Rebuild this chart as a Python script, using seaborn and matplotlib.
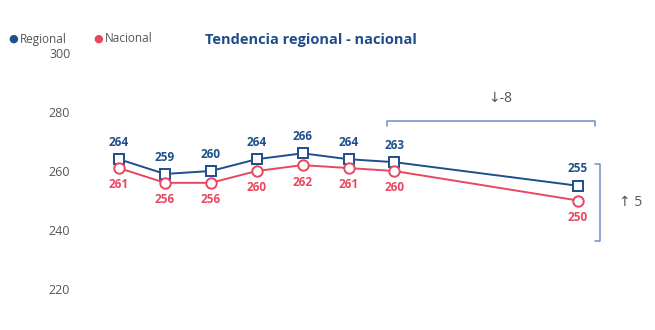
import matplotlib
matplotlib.use("Agg")
import matplotlib.pyplot as plt
import seaborn as sns
import pandas as pd

# Data
periodos = [0, 1, 2, 3, 4, 5, 6, 10]
regional = [264, 259, 260, 264, 266, 264, 263, 255]
nacional = [261, 256, 256, 260, 262, 261, 260, 250]
yticks = [220, 240, 260, 280, 300]

AZUL = "#1f4e8c"
ROJO = "#e8475f"
CORCHETE = "#6f8fc8"
GRIS = "#555555"

sns.set_theme(style="white")
plt.rcParams["font.family"] = ["Open Sans", "DejaVu Sans"]

df = pd.DataFrame({
    "periodo": periodos * 2,
    "puntaje": regional + nacional,
    "serie": ["Regional"] * len(regional) + ["Nacional"] * len(nacional),
})

fig = plt.figure(figsize=(6.55, 3.3), dpi=100)
ax = fig.add_axes([80 / 655, 20 / 330, 560 / 655, 270 / 330])

for nombre, color, marcador in [("Regional", AZUL, "s"), ("Nacional", ROJO, "o")]:
    sub = df[df["serie"] == nombre]
    sns.lineplot(data=sub, x="periodo", y="puntaje", ax=ax, color=color,
                 marker=marcador, markersize=7.5, markerfacecolor="white",
                 markeredgecolor=color, markeredgewidth=1.4, linewidth=1.4,
                 legend=False)

# Value labels
for x, v in zip(periodos, regional):
    ax.annotate(str(v), (x, v), xytext=(0, 7.5), textcoords="offset points",
                ha="center", va="bottom", color=AZUL, fontsize=8.5, fontweight="bold")
for x, v in zip(periodos, nacional):
    ax.annotate(str(v), (x, v), xytext=(0, -7.5), textcoords="offset points",
                ha="center", va="top", color=ROJO, fontsize=8.5, fontweight="bold")

# Horizontal bracket over the last period change
yb = 276.9
ax.plot([5.84, 5.84, 10.37, 10.37], [yb - 1.5, yb, yb, yb - 1.5], color=CORCHETE,
        linewidth=1.1, clip_on=False)
ax.text(8.3, yb + 7.8, "↓-8", ha="center", va="center", color=GRIS, fontsize=10)

# Vertical bracket on the gap between series
xb = 10.48
ax.plot([xb - 0.12, xb, xb, xb - 0.12], [262.4, 262.4, 236.3, 236.3], color=CORCHETE,
        linewidth=1.1, clip_on=False)
ax.text(11.15, 249.4, "↑ 5", ha="center", va="center", color=GRIS, fontsize=10)

ax.set_xlim(-0.85, 11.35)
ax.set_ylim(212.9, 304.4)
ax.set_yticks(yticks)
ax.set_yticklabels([str(t) for t in yticks], color=GRIS, fontsize=9)
ax.set_xticks([])
ax.set_xlabel("")
ax.set_ylabel("")
ax.tick_params(axis="y", length=0, pad=7)
sns.despine(ax=ax, left=True, bottom=True)

# Legend and title
fig.text(13 / 655, 1 - 39 / 330, "●", color=AZUL, fontsize=8, ha="center", va="center")
fig.text(20 / 655, 1 - 39 / 330, "Regional", color=GRIS, fontsize=8.5, ha="left", va="center")
fig.text(98 / 655, 1 - 39 / 330, "●", color=ROJO, fontsize=8, ha="center", va="center")
fig.text(105 / 655, 1 - 39 / 330, "Nacional", color=GRIS, fontsize=8.5, ha="left", va="center")
fig.text(311 / 655, 1 - 40 / 330, "Tendencia regional - nacional", color=AZUL,
         fontsize=10.5, fontweight="bold", ha="center", va="center")

fig.savefig("out.png", dpi=100)
